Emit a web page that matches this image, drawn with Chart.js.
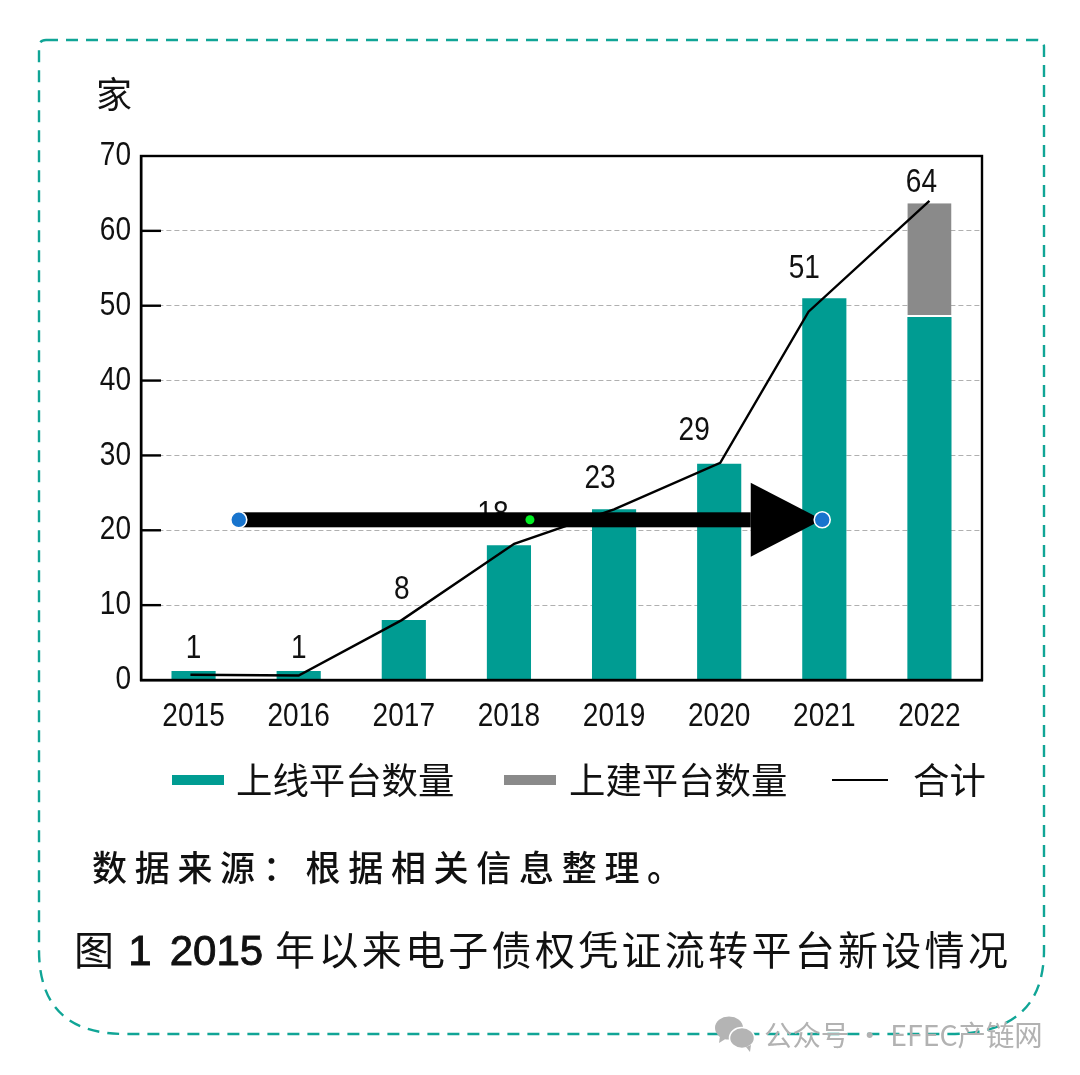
<!DOCTYPE html>
<html><head><meta charset="utf-8">
<script src="https://cdn.jsdelivr.net/npm/chart.js@4"></script>
<style>
html,body{margin:0;padding:0;background:#fff;width:1080px;height:1075px;overflow:hidden}
#c{position:absolute;left:0;top:0}
svg{position:absolute;left:0;top:0}
.t{position:absolute;white-space:nowrap;line-height:1;color:#111;font-family:"Noto Sans CJK SC","Noto Sans",sans-serif;font-weight:400}
.k{position:absolute}
b{font-family:"Liberation Sans",sans-serif;font-weight:400;-webkit-text-stroke:.9px #111;letter-spacing:0}
</style></head><body>
<canvas id="c" width="1080" height="1075" style="width:1080px;height:1075px"></canvas>
<svg width="1080" height="1075">
<path d="M46 40 H1037 Q1044 40 1044 47 V950 Q1044 1034 950 1034 H125 Q39 1034 39 950 V47 Q39 40 46 40 Z" fill="none" stroke="#10A596" stroke-width="2.4" stroke-dasharray="12 8"/>
<g fill="#b4b4b4"><ellipse cx="729" cy="1028" rx="14" ry="11.5"/><path d="M720 1036 l-1 7 l8 -5z"/>
<ellipse cx="742" cy="1038" rx="12.5" ry="10.5" stroke="#fff" stroke-width="1.5"/><path d="M746 1047 l4 5 l1 -7z"/></g>
</svg>
<div class="t" style="left:96px;top:74px;font-size:36px">家</div>
<div class="k" style="left:172px;top:775px;width:52px;height:10px;background:#009C92"></div>
<div class="t" style="left:236px;top:760px;font-size:36.4px;font-weight:400">上线平台数量</div>
<div class="k" style="left:504px;top:775px;width:52px;height:10px;background:#8A8A8A"></div>
<div class="t" style="left:569px;top:760px;font-size:36.4px;font-weight:400">上建平台数量</div>
<div class="k" style="left:832px;top:779px;width:56px;height:2px;background:#000"></div>
<div class="t" style="left:913px;top:760px;font-size:36.4px;font-weight:400">合计</div>
<div class="t" style="left:92px;top:848px;font-size:35px;letter-spacing:7.7px;font-weight:500">数据来源&#xFF1A;根据相关信息整理&#x3002;</div>
<div class="t" style="left:74px;top:928px;font-size:40px;font-weight:400;letter-spacing:3.3px">图<b style="font-size:42px;margin-left:11px">1</b><b style="font-size:42px;margin-left:18px">2015</b><span style="margin-left:12px">年以来电子债权凭证流转平台新设情况</span></div>
<div class="t" style="left:764px;top:1020px;font-size:28.4px;color:#b2b2b2">公众号 · EFEC产链网</div>
<script>
const categories = ['2015','2016','2017','2018','2019','2020','2021','2022'];
const onlineValues = [1.2,1.2,8,18,22.8,28.9,51,48.5];
const builtValues = [0,0,0,0,0,0,0,15.2];
const totalLabels = ['1','1','8','18','23','29','51','64'];
const totalLinePosition = [-0.03,1,1.98,3.05,4,5.01,5.85,7];
const totalLineValues = [0.7,0.6,8,18.2,22.8,29,49.2,64];
const yTicks = [0,10,20,30,40,50,60,70];
const arrowValue = 21.4, arrowFrom = 0.43, arrowHeadBase = 5.3, arrowTo = 5.98, arrowMid = 3.2;

const NUM = '"Liberation Sans",sans-serif';
const labelOffsets = [[0,-22],[0,-22],[-2,-30],[-16,-30],[-14,-30],[-25,-33],[-20,-29],[-8,-20]];
const narrow = 0.85;

const canvas = document.getElementById('c');
const rawCtx = canvas.getContext('2d');
const rawFill = rawCtx.fillText;
rawCtx.fillText = function(t,x,y){ this.save(); this.translate(x,y); this.scale(narrow,1); rawFill.call(this,t,0,0); this.restore(); };

const overlay = {
  id:'overlay',
  beforeDatasetsDraw(ch){
    const {ctx,scales:{y},chartArea:a}=ch;
    ctx.save();ctx.strokeStyle='#000';ctx.lineWidth=2.4;
    yTicks.slice(1,-1).forEach(v=>{const p=y.getPixelForValue(v);ctx.beginPath();ctx.moveTo(a.left,p);ctx.lineTo(a.left+20,p);ctx.stroke();});
    ctx.restore();
  },
  afterDatasetsDraw(ch){
    const {ctx,scales:{x,y,xl}}=ch;
    const bars=ch.getDatasetMeta(0).data;
    ctx.save();
    ctx.fillStyle='#111';ctx.font='33px '+NUM;ctx.textAlign='center';ctx.textBaseline='middle';
    totalLabels.forEach((t,i)=>{
      const top=y.getPixelForValue(onlineValues[i]+builtValues[i]);
      ctx.fillText(t,bars[i].x+labelOffsets[i][0],top+labelOffsets[i][1]);
    });
    const py=y.getPixelForValue(arrowValue);
    const x0=xl.getPixelForValue(arrowFrom),x1=xl.getPixelForValue(arrowHeadBase),x2=xl.getPixelForValue(arrowTo);
    ctx.fillStyle='#000';
    ctx.fillRect(x0,py-7.5,x1-x0,15);
    ctx.beginPath();ctx.moveTo(x1,py-37);ctx.lineTo(x2,py);ctx.lineTo(x1,py+37);ctx.closePath();ctx.fill();
    [x0,x2].forEach(px=>{ctx.beginPath();ctx.arc(px,py,8,0,7);ctx.fillStyle='#1874CD';ctx.fill();ctx.strokeStyle='#fff';ctx.lineWidth=1.6;ctx.stroke();});
    ctx.beginPath();ctx.arc(xl.getPixelForValue(arrowMid),py,4.5,0,7);ctx.fillStyle='#00EE22';ctx.fill();
    ctx.restore();
  }
};

new Chart(canvas,{
  data:{labels:categories,datasets:[
    {type:'bar',label:'上线平台数量',data:onlineValues,backgroundColor:'#009C92',grouped:false,barPercentage:.42,categoryPercentage:1,order:2},
    {type:'bar',label:'上建平台数量',data:builtValues,backgroundColor:'#8A8A8A',borderColor:'#fff',grouped:false,barPercentage:.42,categoryPercentage:1,order:2,
      borderWidth:{bottom:2,top:0,left:0,right:0},borderSkipped:false},
    {type:'line',label:'合计',data:totalLinePosition.map((p,i)=>({x:p,y:totalLineValues[i]})),xAxisID:'xl',borderColor:'#000',borderWidth:2.4,pointRadius:0,tension:0,fill:false,order:1}
  ]},
  options:{
    responsive:false,animation:false,devicePixelRatio:1,
    layout:{padding:{top:156,right:98,left:0,bottom:0}},
    plugins:{legend:{display:false},tooltip:{enabled:false}},
    scales:{
      x:{stacked:true,offset:true,grid:{display:false,drawTicks:false},border:{color:'#000',width:2.4},
        ticks:{color:'#111',font:{family:NUM,size:33},maxRotation:0,padding:17},
        afterFit(s){s.height=395;}},
      xl:{type:'linear',min:-.5,max:7.5,display:false},
      y:{stacked:true,min:0,max:70,afterBuildTicks(s){s.ticks=yTicks.map(v=>({value:v}));},
        grid:{color:'#b0b0b0',lineWidth:1,drawTicks:false},
        border:{color:'#000',width:2.4,dash:[5,3]},
        ticks:{color:'#111',font:{family:NUM,size:33},padding:10,autoSkip:false},
        afterFit(s){s.width=141;}}
    }
  },
  plugins:[overlay,{
    id:'box',
    afterDraw(ch){const {ctx,chartArea:a}=ch;ctx.save();ctx.strokeStyle='#000';ctx.lineWidth=2.4;ctx.strokeRect(a.left,a.top,a.right-a.left,a.bottom-a.top);ctx.restore();}
  }]
});
</script>
</body></html>
